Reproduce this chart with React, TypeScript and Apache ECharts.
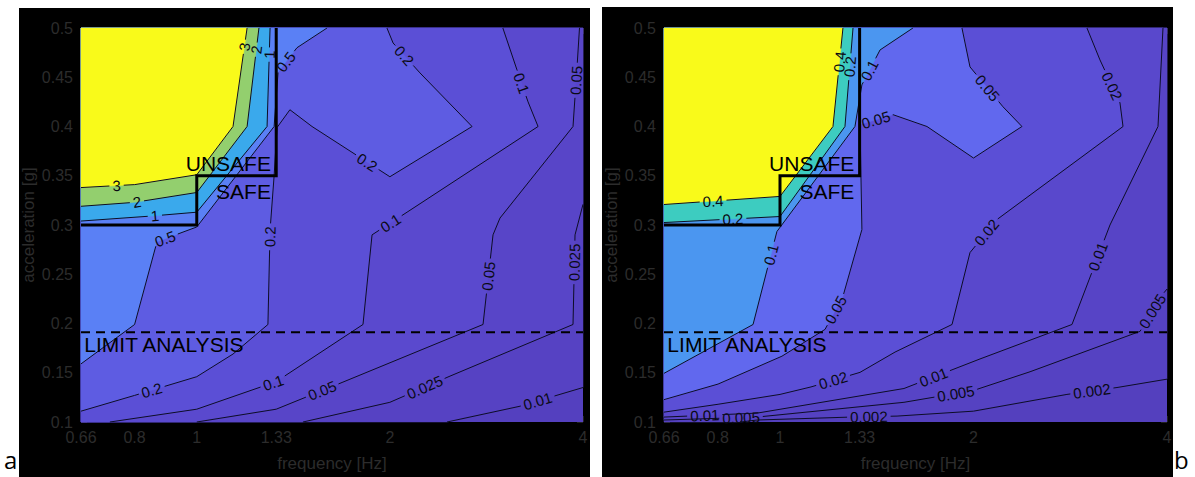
import React, { useEffect, useRef } from "react";
import * as echarts from "echarts";

// ---------- axes ----------
const FREQ_MIN = 0.66;
const FREQ_MAX = 4;
const ACC_MIN = 0.1;
const ACC_MAX = 0.5;
const ACC_STEP = 0.05;
const FREQ_TICKS = [0.66, 0.8, 1, 1.33, 2, 4];

// ---------- annotations ----------
const LIMIT_ACC = 0.191;
const SAFE_BOX = [[0.66, 0.3], [1, 0.3], [1, 0.35], [1.33, 0.35], [1.33, 0.5]];
const TXT_UNSAFE = [1.305, 0.362];
const TXT_SAFE = [1.305, 0.334];
const TXT_LIMIT = [0.668, 0.179];

// ---------- panel a ----------
const A_LEVELS = [0.01, 0.025, 0.05, 0.1, 0.2, 0.5, 1, 2, 3];
const A_FILLS = ["#5440bf", "#5642c3", "#5845c8", "#5a49ce", "#5b4fd6", "#5e5ce2", "#5a80f5", "#3aa9ec", "#93cf6e", "#f9fa1a"];
const A_C001 = [[2.455, 0.1], [3.19, 0.116], [4, 0.135]];
const A_C0025 = [[1.464, 0.1], [2.0, 0.12], [2.482, 0.1466], [3.859, 0.199], [3.887, 0.29], [4, 0.321]];
const A_C005 = [[1.0, 0.1], [1.33, 0.113], [1.69, 0.1405], [2.794, 0.199], [2.896, 0.29], [2.969, 0.307], [3.859, 0.4], [3.915, 0.46], [3.95, 0.5]];
const A_C01 = [[0.732, 0.1], [1.0, 0.113], [1.33, 0.141], [1.816, 0.199], [1.876, 0.29], [2.127, 0.313], [3.404, 0.4], [3.284, 0.425], [3.156, 0.4575], [3.0, 0.5]];
const A_C02 = [[0.66, 0.111], [0.8, 0.127], [1.0, 0.146], [1.139, 0.169], [1.291, 0.199], [1.301, 0.295], [1.32, 0.35], [1.334, 0.399], [1.397, 0.417], [1.5125, 0.4], [2.0, 0.349], [2.686, 0.4], [2.228, 0.4544], [2.023, 0.4848], [1.979, 0.5]];
const A_C05 = [[0.66, 0.159], [0.8, 0.199], [0.867, 0.283], [1.0, 0.298], [1.32, 0.4], [1.339, 0.4555], [1.433, 0.48], [1.596, 0.5]];
const A_C1 = [[0.66, 0.304], [0.846, 0.309], [1.0, 0.313], [1.287, 0.4], [1.301, 0.5]];
const A_C2 = [[0.66, 0.319], [0.8, 0.323], [1.0, 0.333], [1.198, 0.4], [1.25, 0.5]];
const A_C3 = [[0.66, 0.338], [0.8, 0.341], [1.0, 0.351], [1.139, 0.4], [1.198, 0.5]];
const A_L001 = [[3.4, 0.121]];
const A_L0025 = [[2.285, 0.13], [3.887, 0.262]];
const A_L005 = [[1.573, 0.13], [2.865, 0.248], [3.89, 0.447]];
const A_L01 = [[1.31, 0.1436], [1.979, 0.3076], [3.214, 0.444]];
const A_L02 = [[0.852, 0.131], [1.3, 0.288], [1.816, 0.357], [2.089, 0.47]];
const A_L05 = [[0.886, 0.292], [1.363, 0.468]];
const A_L1 = [[0.861, 0.307], [1.297, 0.473]];
const A_L2 = [[0.807, 0.323], [1.238, 0.478]];
const A_L3 = [[0.75, 0.339], [1.185, 0.481]];

// ---------- panel b ----------
const B_LEVELS = [0.002, 0.005, 0.01, 0.02, 0.05, 0.1, 0.2, 0.4];
const B_FILLS = ["#5440be", "#5542c2", "#5744c6", "#5948cc", "#5b4fd6", "#6168ee", "#4b96f0", "#3dccc0", "#f9fa1a"];
const B_C0002 = [[0.867, 0.1], [0.921, 0.102], [1.29, 0.105], [1.521, 0.106], [2.0, 0.111], [2.795, 0.128], [3.344, 0.135], [4, 0.1435]];
const B_C0005 = [[0.66, 0.102], [0.921, 0.105], [1.559, 0.12], [2.0, 0.132], [2.449, 0.151], [3.631, 0.192], [3.943, 0.23], [4, 0.235]];
const B_C001 = [[0.66, 0.105], [0.921, 0.109], [1.559, 0.134], [2.047, 0.164], [2.846, 0.199], [3.261, 0.3], [3.873, 0.4], [3.943, 0.5]];
const B_C002 = [[0.66, 0.11], [0.801, 0.118], [1.0, 0.128], [1.1175, 0.1356], [1.332, 0.1504], [1.51, 0.171], [1.852, 0.199], [1.975, 0.272], [2.176, 0.3056], [3.417, 0.4], [3.38, 0.424], [3.146, 0.4676], [3.003, 0.5]];
const B_C005 = [[0.66, 0.1227], [0.801, 0.1385], [1.007, 0.1668], [1.175, 0.194], [1.253, 0.2276], [1.341, 0.2954], [1.332, 0.402], [1.499, 0.412], [1.693, 0.4], [2.0, 0.368], [2.379, 0.4], [2.223, 0.42], [1.975, 0.4605], [1.919, 0.5]];
const B_C01 = [[0.66, 0.1494], [0.908, 0.199], [0.989, 0.2934], [1.308, 0.4], [1.341, 0.4423], [1.431, 0.4777], [1.61, 0.5]];
const B_C02 = [[0.66, 0.3025], [1.0, 0.3086], [1.262, 0.4], [1.299, 0.5]];
const B_C04 = [[0.66, 0.3208], [1.0, 0.329], [1.209, 0.4], [1.253, 0.5]];
const B_L0002 = [[1.375, 0.103], [3.058, 0.1304]];
const B_L0005 = [[0.87, 0.103], [1.876, 0.1304], [3.83, 0.211]];
const B_L001 = [[0.764, 0.104], [1.73, 0.147], [3.146, 0.267]];
const B_L002 = [[1.213, 0.1395], [2.069, 0.2954], [3.261, 0.44]];
const B_L005 = [[1.218, 0.2144], [1.405, 0.41], [2.084, 0.437]];
const B_L01 = [[0.965, 0.27], [1.351, 0.46]];
const B_L02 = [[0.845, 0.3056], [1.294, 0.4605]];
const B_L04 = [[0.787, 0.3238], [1.24, 0.4656]];

const PANEL_A = {
  levels: A_LEVELS,
  fills: A_FILLS,
  lines: [A_C001, A_C0025, A_C005, A_C01, A_C02, A_C05, A_C1, A_C2, A_C3],
  labels: [A_L001, A_L0025, A_L005, A_L01, A_L02, A_L05, A_L1, A_L2, A_L3],
};
const PANEL_B = {
  levels: B_LEVELS,
  fills: B_FILLS,
  lines: [B_C0002, B_C0005, B_C001, B_C002, B_C005, B_C01, B_C02, B_C04],
  labels: [B_L0002, B_L0005, B_L001, B_L002, B_L005, B_L01, B_L02, B_L04],
};

const FONT = '"Liberation Sans", Arial, Helvetica, sans-serif';
const AXIS_TEXT = "#2c2c2c";
const LABEL_FS = 15;
const NOTE_FS = 21;

// close a contour line (start on left/bottom edge, end on top/right edge)
// along the plot border so that the higher-valued side is enclosed
function closeRegion(line: number[][]) {
  const l0 = Math.log(FREQ_MIN);
  const l1 = Math.log(FREQ_MAX);
  const perim = (p: number[]) => {
    const nx = (Math.log(p[0]) - l0) / (l1 - l0);
    const ny = (p[1] - ACC_MIN) / (ACC_MAX - ACC_MIN);
    if (Math.abs(nx - 1) < 1e-3) return ny;
    if (Math.abs(ny - 1) < 1e-3) return 1 + (1 - nx);
    if (Math.abs(nx) < 1e-3) return 2 + (1 - ny);
    return 3 + nx;
  };
  const corners = [[FREQ_MAX, ACC_MAX], [FREQ_MIN, ACC_MAX], [FREQ_MIN, ACC_MIN], [FREQ_MAX, ACC_MIN]];
  const pe = perim(line[line.length - 1]);
  let ps = perim(line[0]);
  if (ps <= pe) ps += 4;
  const out = line.slice();
  for (let k = Math.floor(pe) + 1; k < ps; k++) out.push(corners[(k - 1) % 4]);
  return out;
}

function cum(p: number[][]) {
  const L = [0];
  for (let i = 1; i < p.length; i++) L.push(L[i - 1] + Math.hypot(p[i][0] - p[i - 1][0], p[i][1] - p[i - 1][1]));
  return L;
}
function at(p: number[][], L: number[], s: number) {
  for (let i = 1; i < p.length; i++) {
    if (s <= L[i] || i === p.length - 1) {
      const seg = L[i] - L[i - 1] || 1;
      const t = Math.max(0, Math.min(1, (s - L[i - 1]) / seg));
      return [p[i - 1][0] + (p[i][0] - p[i - 1][0]) * t, p[i - 1][1] + (p[i][1] - p[i - 1][1]) * t];
    }
  }
  return p[0];
}
function piece(p: number[][], L: number[], a: number, b: number) {
  const out = [at(p, L, a)];
  for (let i = 0; i < p.length; i++) if (L[i] > a && L[i] < b) out.push(p[i]);
  out.push(at(p, L, b));
  return out;
}
function project(p: number[][], L: number[], q: number[]) {
  let best = { d: Infinity, s: 0, ang: 0 };
  for (let i = 1; i < p.length; i++) {
    const ax = p[i - 1][0], ay = p[i - 1][1];
    const dx = p[i][0] - ax, dy = p[i][1] - ay;
    const len2 = dx * dx + dy * dy || 1;
    const t = Math.max(0, Math.min(1, ((q[0] - ax) * dx + (q[1] - ay) * dy) / len2));
    const d = Math.hypot(ax + dx * t - q[0], ay + dy * t - q[1]);
    if (d < best.d) best = { d, s: L[i - 1] + t * Math.sqrt(len2), ang: Math.atan2(-dy, dx) };
  }
  return best;
}
function textWidth(s: string, fs: number) {
  let w = 0;
  for (const ch of s) w += ch === "." ? 0.278 : 0.556;
  return w * fs;
}

function makeRender(panel: any) {
  return (_params: any, api: any) => {
    const c = (p: number[]) => api.coord(p);
    const children: any[] = [];
    const full = [[FREQ_MIN, ACC_MIN], [FREQ_MAX, ACC_MIN], [FREQ_MAX, ACC_MAX], [FREQ_MIN, ACC_MAX]];
    children.push({ type: "polygon", shape: { points: full.map(c) }, style: { fill: panel.fills[0] } });
    panel.lines.forEach((line: number[][], i: number) => {
      children.push({ type: "polygon", shape: { points: closeRegion(line).map(c) }, style: { fill: panel.fills[i + 1], stroke: panel.fills[i + 1], lineWidth: 0.5 } });
    });
    panel.lines.forEach((line: number[][], i: number) => {
      const px = line.map(c);
      const L = cum(px);
      const total = L[L.length - 1];
      const txt = String(panel.levels[i]);
      const w = textWidth(txt, LABEL_FS) + 6;
      const gaps = panel.labels[i]
        .map((q: number[]) => project(px, L, c(q)))
        .sort((u: any, v: any) => u.s - v.s);
      let cur = 0;
      const lineStyle = { stroke: "#0d0d26", lineWidth: 1, fill: null };
      for (const g of gaps) {
        const a0 = g.s - w / 2;
        if (a0 > cur) children.push({ type: "polyline", shape: { points: piece(px, L, cur, a0) }, style: lineStyle });
        cur = Math.max(cur, g.s + w / 2);
      }
      if (cur < total) children.push({ type: "polyline", shape: { points: piece(px, L, cur, total) }, style: lineStyle });
      for (const g of gaps) {
        const pos = at(px, L, g.s);
        let ang = g.ang;
        if (ang > Math.PI / 2) ang -= Math.PI;
        if (ang < -Math.PI / 2) ang += Math.PI;
        children.push({
          type: "text", x: pos[0], y: pos[1], rotation: ang,
          style: { text: txt, fill: "#0a0a14", fontSize: LABEL_FS, fontFamily: FONT, align: "center", verticalAlign: "middle" },
        });
      }
    });
    // limit analysis dashed line
    const l0 = c([FREQ_MIN, LIMIT_ACC]);
    const l1 = c([FREQ_MAX, LIMIT_ACC]);
    children.push({
      type: "line",
      shape: { x1: l0[0], y1: l0[1], x2: l1[0], y2: l1[1] },
      style: { stroke: "#000", lineWidth: 2, lineDash: [9, 6] },
    });
    // safe / unsafe boundary
    children.push({ type: "polyline", shape: { points: SAFE_BOX.map(c) }, style: { stroke: "#000", lineWidth: 3, fill: null } });
    const note = (p: number[], text: string, align: string) => {
      const q = c(p);
      children.push({ type: "text", x: q[0], y: q[1], style: { text, fill: "#000", fontSize: NOTE_FS, fontFamily: FONT, align, verticalAlign: "middle" } });
    };
    note(TXT_UNSAFE, "UNSAFE", "right");
    note(TXT_SAFE, "SAFE", "right");
    note(TXT_LIMIT, "LIMIT ANALYSIS", "left");
    return { type: "group", children };
  };
}

const fmt = (v: number) => String(Math.round(v * 100) / 100);

function axesFor(gridIndex: number) {
  const tick = { show: true, inside: true, length: 6, lineStyle: { color: "#222", width: 1 } };
  const x = [
    {
      type: "log", logBase: 10, gridIndex, min: FREQ_MIN, max: FREQ_MAX, position: "bottom",
      name: "frequency [Hz]", nameLocation: "middle", nameGap: 33,
      nameTextStyle: { color: AXIS_TEXT, fontSize: 17, fontFamily: FONT },
      axisLine: { show: false }, splitLine: { show: false },
      axisTick: { ...tick, customValues: FREQ_TICKS },
      axisLabel: { show: true, customValues: FREQ_TICKS, color: AXIS_TEXT, fontSize: 16, fontFamily: FONT, margin: 7, formatter: fmt },
    },
    {
      type: "log", logBase: 10, gridIndex, min: FREQ_MIN, max: FREQ_MAX, position: "top",
      axisLine: { show: false }, splitLine: { show: false },
      axisTick: { ...tick, customValues: FREQ_TICKS },
      axisLabel: { show: false },
    },
  ];
  const y = [
    {
      type: "value", gridIndex, min: ACC_MIN, max: ACC_MAX, interval: ACC_STEP, position: "left",
      name: "acceleration [g]", nameLocation: "middle", nameGap: 44, nameRotate: 90,
      nameTextStyle: { color: AXIS_TEXT, fontSize: 17, fontFamily: FONT },
      axisLine: { show: false }, splitLine: { show: false }, axisTick: tick,
      axisLabel: { color: AXIS_TEXT, fontSize: 16, fontFamily: FONT, margin: 8, formatter: fmt },
    },
    {
      type: "value", gridIndex, min: ACC_MIN, max: ACC_MAX, interval: ACC_STEP, position: "right",
      axisLine: { show: false }, splitLine: { show: false }, axisTick: tick, axisLabel: { show: false },
    },
  ];
  return { x, y };
}

export default function App() {
  const ref = useRef<HTMLDivElement>(null);
  useEffect(() => {
    if (!ref.current) return;
    const chart = echarts.init(ref.current, undefined, { renderer: "svg" });
    const a = axesFor(0);
    const b = axesFor(1);
    chart.setOption({
      animation: false,
      backgroundColor: "#ffffff",
      grid: [
        { left: 81, top: 28, width: 502, height: 395 },
        { left: 664, top: 28, width: 503, height: 395 },
      ],
      xAxis: [...a.x, ...b.x],
      yAxis: [...a.y, ...b.y],
      graphic: {
        elements: [
          { type: "rect", z: -10, shape: { x: 19, y: 8, width: 571, height: 469 }, style: { fill: "#000" } },
          { type: "rect", z: -10, shape: { x: 602, y: 7, width: 571, height: 470 }, style: { fill: "#000" } },
          { type: "text", z: 10, x: 4, y: 447, style: { text: "a", fill: "#000", fontSize: 24, fontFamily: '"Open Sans", sans-serif' } },
          { type: "text", z: 10, x: 1174, y: 447, style: { text: "b", fill: "#000", fontSize: 24, fontFamily: '"Open Sans", sans-serif' } },
        ],
      },
      series: [
        { type: "custom", coordinateSystem: "cartesian2d", xAxisIndex: 0, yAxisIndex: 0, silent: true, data: [[1, 0.3]], renderItem: makeRender(PANEL_A) },
        { type: "custom", coordinateSystem: "cartesian2d", xAxisIndex: 2, yAxisIndex: 2, silent: true, data: [[1, 0.3]], renderItem: makeRender(PANEL_B) },
      ],
    });
    return () => chart.dispose();
  }, []);
  return <div ref={ref} style={{ position: "absolute", left: 0, top: 0, width: 1195, height: 477 }} />;
}
